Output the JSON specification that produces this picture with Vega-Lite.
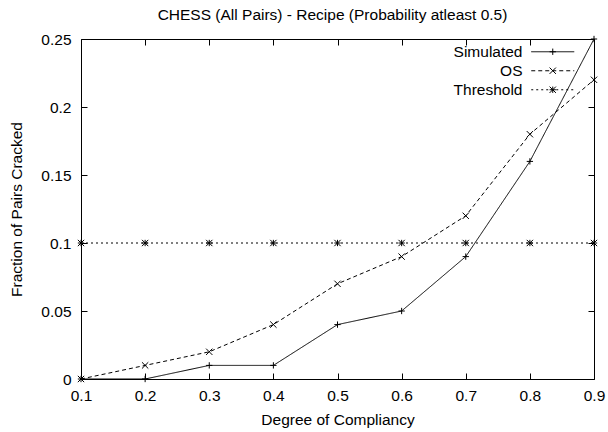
{
  "$schema": "https://vega.github.io/schema/vega-lite/v6.json",
  "width": 513,
  "height": 340,
  "autosize": {"type": "none"},
  "padding": {"left": 81, "top": 39, "right": 14, "bottom": 53},
  "background": "white",
  "title": {
    "text": "CHESS (All Pairs) - Recipe (Probability atleast 0.5)",
    "font": "Liberation Sans",
    "fontSize": 15.5,
    "fontWeight": "normal",
    "color": "black",
    "baseline": "alphabetic",
    "offset": -3,
    "dx": -5
  },
  "config": {
    "view": {"stroke": "black", "strokeWidth": 1},
    "font": "Liberation Sans",
    "axis": {
      "grid": false,
      "domain": false,
      "ticks": true,
      "tickColor": "black",
      "tickWidth": 1,
      "tickSize": -6,
      "labelFlush": false,
      "labelColor": "black",
      "labelFont": "Liberation Sans",
      "labelFontSize": 15.5,
      "titleColor": "black",
      "titleFont": "Liberation Sans",
      "titleFontSize": 15.5,
      "titleFontWeight": "normal"
    },
    "legend": {
      "labelFont": "Liberation Sans",
      "labelFontSize": 15.5,
      "labelColor": "black",
      "padding": 0
    }
  },
  "data": {
    "values": [
      {"series": "Simulated", "compliancy": 0.1, "cracked": 0},
      {"series": "Simulated", "compliancy": 0.2, "cracked": 0},
      {"series": "Simulated", "compliancy": 0.3, "cracked": 0.01},
      {"series": "Simulated", "compliancy": 0.4, "cracked": 0.01},
      {"series": "Simulated", "compliancy": 0.5, "cracked": 0.04},
      {"series": "Simulated", "compliancy": 0.6, "cracked": 0.05},
      {"series": "Simulated", "compliancy": 0.7, "cracked": 0.09},
      {"series": "Simulated", "compliancy": 0.8, "cracked": 0.16},
      {"series": "Simulated", "compliancy": 0.9, "cracked": 0.25},
      {"series": "OS", "compliancy": 0.1, "cracked": 0},
      {"series": "OS", "compliancy": 0.2, "cracked": 0.01},
      {"series": "OS", "compliancy": 0.3, "cracked": 0.02},
      {"series": "OS", "compliancy": 0.4, "cracked": 0.04},
      {"series": "OS", "compliancy": 0.5, "cracked": 0.07},
      {"series": "OS", "compliancy": 0.6, "cracked": 0.09},
      {"series": "OS", "compliancy": 0.7, "cracked": 0.12},
      {"series": "OS", "compliancy": 0.8, "cracked": 0.18},
      {"series": "OS", "compliancy": 0.9, "cracked": 0.22},
      {"series": "Threshold", "compliancy": 0.1, "cracked": 0.1},
      {"series": "Threshold", "compliancy": 0.2, "cracked": 0.1},
      {"series": "Threshold", "compliancy": 0.3, "cracked": 0.1},
      {"series": "Threshold", "compliancy": 0.4, "cracked": 0.1},
      {"series": "Threshold", "compliancy": 0.5, "cracked": 0.1},
      {"series": "Threshold", "compliancy": 0.6, "cracked": 0.1},
      {"series": "Threshold", "compliancy": 0.7, "cracked": 0.1},
      {"series": "Threshold", "compliancy": 0.8, "cracked": 0.1},
      {"series": "Threshold", "compliancy": 0.9, "cracked": 0.1}
    ]
  },
  "layer": [
    {
      "mark": {"type": "line", "color": "black", "strokeWidth": 1},
      "encoding": {
        "x": {
          "field": "compliancy",
          "type": "quantitative",
          "scale": {"domain": [0.1, 0.9], "nice": false, "zero": false},
          "axis": {
            "orient": "bottom",
            "values": [0.1, 0.2, 0.3, 0.4, 0.5, 0.6, 0.7, 0.8, 0.9],
            "format": ".1f",
            "labelPadding": 27.5,
            "labelBaseline": "alphabetic",
            "title": "Degree of Compliancy",
            "titleBaseline": "alphabetic",
            "titleY": 45
          }
        },
        "y": {
          "field": "cracked",
          "type": "quantitative",
          "scale": {"domain": [0, 0.25], "nice": false},
          "axis": {
            "orient": "left",
            "values": [0, 0.05, 0.1, 0.15, 0.2, 0.25],
            "format": "~g",
            "labelPadding": 16,
            "title": "Fraction of Pairs Cracked",
            "titleBaseline": "alphabetic",
            "titleX": -59.5,
            "titleY": 170
          }
        },
        "strokeDash": {
          "field": "series",
          "type": "nominal",
          "scale": {
            "domain": ["Simulated", "OS", "Threshold"],
            "range": [[1, 0], [4, 3], [2, 3]]
          },
          "legend": {
            "orient": "none",
            "legendX": 464,
            "legendY": 5,
            "title": null,
            "symbolType": "M-6.8,0H6.8",
            "symbolSize": 40,
            "symbolStrokeColor": "black",
            "symbolStrokeWidth": 1,
            "symbolFillColor": "transparent",
            "labelAlign": "right",
            "labelOffset": -38
          }
        }
      }
    },
    {
      "mark": {"type": "point", "filled": false, "color": "black", "strokeWidth": 1, "size": 40, "opacity": 1},
      "encoding": {
        "x": {"field": "compliancy", "type": "quantitative", "axis": null},
        "y": {"field": "cracked", "type": "quantitative", "axis": null},
        "shape": {
          "field": "series",
          "type": "nominal",
          "sort": null,
          "scale": {
            "range": [
              "M-1,0H1M0,-1V1",
              "M-1,-1L1,1M-1,1L1,-1",
              "M-1,0H1M0,-1V1M-1,-1L1,1M-1,1L1,-1"
            ]
          },
          "legend": {
            "orient": "none",
            "legendX": 464,
            "legendY": 5,
            "title": null,
            "symbolSize": 40,
            "symbolStrokeColor": "black",
            "symbolStrokeWidth": 1,
            "symbolFillColor": "transparent",
            "labelAlign": "right",
            "labelOffset": -38,
            "labelOpacity": 0
          }
        }
      }
    },
    {
      "mark": {"type": "point", "opacity": 0},
      "encoding": {
        "x": {
          "field": "compliancy",
          "type": "quantitative",
          "axis": {"orient": "top", "values": [0.1, 0.2, 0.3, 0.4, 0.5, 0.6, 0.7, 0.8, 0.9], "labels": false, "title": null}
        },
        "y": {
          "field": "cracked",
          "type": "quantitative",
          "axis": {"orient": "right", "values": [0, 0.05, 0.1, 0.15, 0.2, 0.25], "labels": false, "title": null}
        }
      }
    }
  ],
  "resolve": {"axis": {"x": "independent", "y": "independent"}}
}
